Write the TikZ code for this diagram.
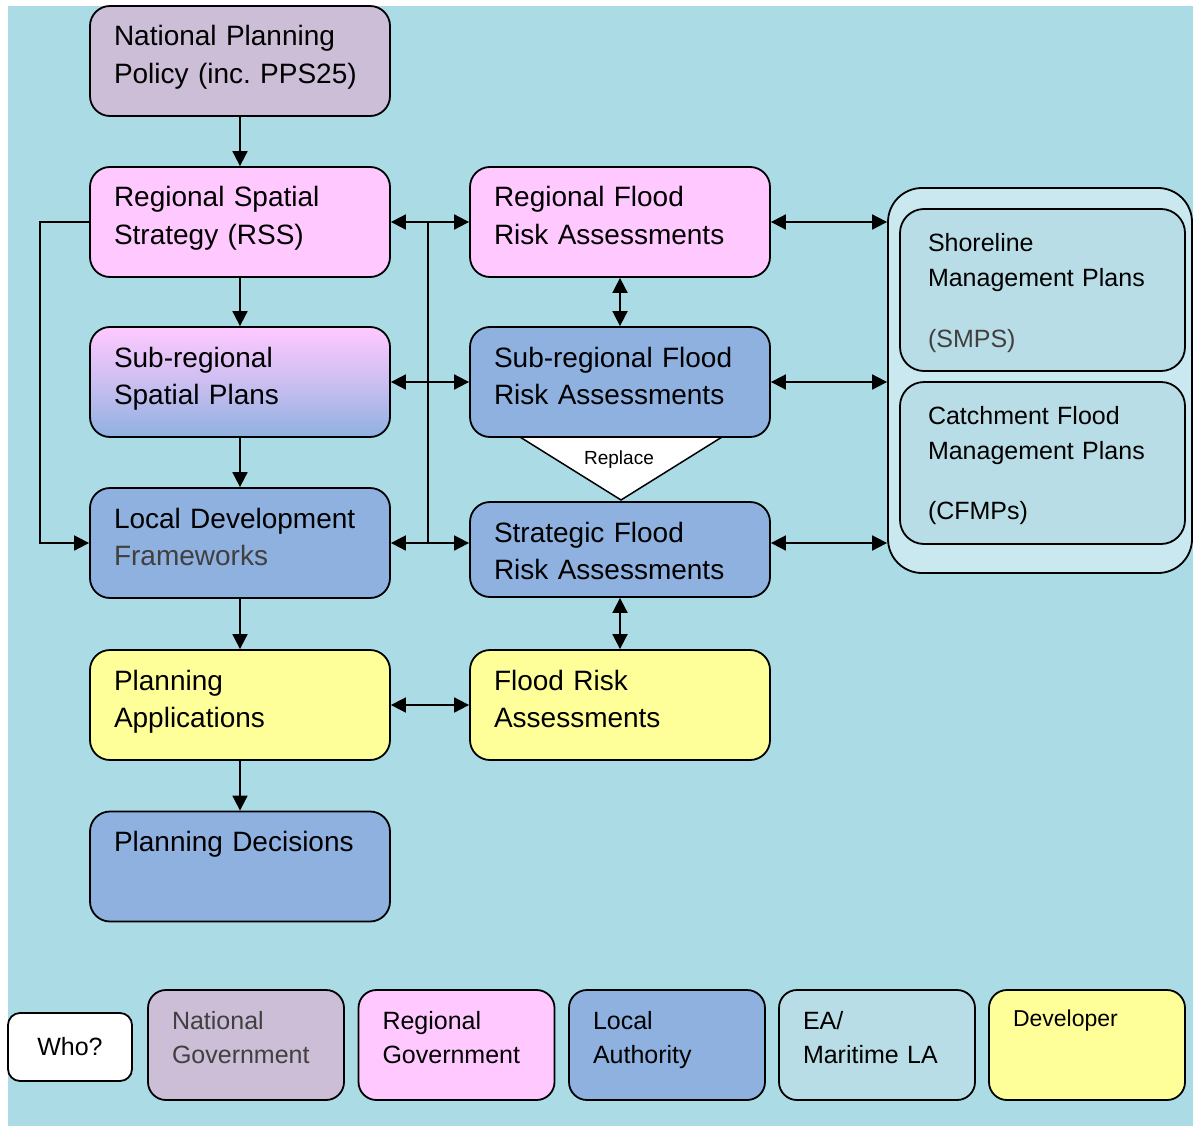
\documentclass[tikz,border=0pt]{standalone}
\usepackage{fontspec}
\setmainfont{Liberation Sans}
\usepackage{xcolor}
\usepackage{tikz}
\usetikzlibrary{arrows.meta, shapes}
\frenchspacing

\definecolor{water}{HTML}{ABDCE5}
\definecolor{natcol}{HTML}{CBBED6}
\definecolor{regcol}{HTML}{FFC9FF}
\definecolor{loccol}{HTML}{8EB1E0}
\definecolor{devcol}{HTML}{FFFF99}
\definecolor{eacol}{HTML}{B8DDE6}
\definecolor{grpcol}{HTML}{C9E8EF}
\definecolor{textgray}{HTML}{404040}

\newcommand{\boxfont}{\fontsize{28}{37.5}\selectfont}
\newcommand{\sidefont}{\fontsize{25}{35}\selectfont}
\newcommand{\keyfont}{\fontsize{25}{34}\selectfont}

\tikzset{
  stage/.style={draw, line width=1.8pt, rounded corners=20pt, inner xsep=24pt, inner ysep=0pt,
    text width=252pt, align=left, text height=40pt, text depth=70pt, font=\boxfont},
  plan/.style={draw, line width=1.8pt, rounded corners=24pt, fill=eacol, inner xsep=28pt, inner ysep=0pt,
    text width=229pt, align=left, text height=42pt, text depth=120pt, font=\sidefont},
  key/.style={draw, line width=1.8pt, rounded corners=18pt, inner xsep=24pt, inner ysep=0pt,
    text width=148pt, align=left, text height=39pt, text depth=71pt, font=\keyfont},
  arr/.style={line width=1.8pt, -{Triangle[length=15pt,width=15pt]}},
  darr/.style={line width=1.8pt, {Triangle[length=15pt,width=15pt]}-{Triangle[length=15pt,width=15pt]}},
}

\begin{document}
\begin{tikzpicture}[x=1pt, y=-1pt]
\useasboundingbox (0,0) rectangle (1193,1126);
\fill[water] (8,6) rectangle (1193,1126);

% planning side
\node[stage, fill=natcol] (npp) at (240,61) {National Planning\\Policy (inc. PPS25)};
\node[stage, fill=regcol] (rss) at (240,222) {Regional Spatial\\Strategy (RSS)};
\node[stage, top color=regcol, bottom color=loccol, middle color=regcol!55!loccol] (srsp) at (240,382) {Sub-regional\\Spatial Plans};
\node[stage, fill=loccol] (ldf) at (240,543) {Local Development\\{\color{textgray}Frameworks}};
\node[stage, fill=devcol] (papp) at (240,705) {Planning\\Applications};
\node[stage, fill=loccol] (pdec) at (240,866.5) {Planning Decisions};

% flood risk side
\node[stage, fill=regcol] (rfra) at (620,222) {Regional Flood\\Risk Assessments};
\node[stage, fill=loccol] (srfra) at (620,382) {Sub-regional Flood\\Risk Assessments};
\node[stage, fill=loccol, text depth=55pt] (sfra) at (620,549.5) {Strategic Flood\\Risk Assessments};
\node[stage, fill=devcol] (fra) at (620,705) {Flood Risk\\Assessments};

\draw[line width=1.5pt, fill=white] (520,437) -- (722,437) -- (621,500) -- cycle;
\node[font=\fontsize{19}{22}\selectfont] (rep) at (619,460) {Replace};

% management plans
\node[draw, line width=1.8pt, rounded corners=34pt, fill=grpcol, minimum width=304pt,
  minimum height=385pt, inner sep=0pt] (grp) at (1040,380.5) {};
\node[plan] (smp) at (1042.5,290) {Shoreline\\Management Plans\\[26pt]{\color{textgray}(SMPS)}};
\node[plan] (cfmp) at (1042.5,463) {Catchment Flood\\Management Plans\\[25pt](CFMPs)};

% links
\draw[arr] (npp.south) -- (rss.north);
\draw[arr] (rss.south) -- (srsp.north);
\draw[arr] (srsp.south) -- (ldf.north);
\draw[arr] (ldf.south) -- (papp.north);
\draw[arr] (papp.south) -- (pdec.north);
\draw[arr] (rss.west) -- ++(-49,0) |- (ldf.west);

\coordinate (bus) at (428,0);
\draw[line width=1.8pt] (rss.east -| bus) -- (ldf.east -| bus);
\draw[darr] (rss.east) -- (rfra.west);
\draw[darr] (srsp.east) -- (srfra.west);
\draw[darr] (ldf.east) -- (ldf.east -| sfra.west);
\draw[darr] (rfra.south) -- (srfra.north);
\draw[darr] (sfra.south) -- (fra.north);
\draw[darr] (papp.east) -- (fra.west);

\draw[darr] (rfra.east) -- (rfra.east -| grp.west);
\draw[darr] (srfra.east) -- (srfra.east -| grp.west);
\draw[darr] (sfra.east |- ldf.east) -- (grp.west |- ldf.east);

% key
\node[draw, line width=1.8pt, rounded corners=12pt, fill=white, minimum width=124pt,
  minimum height=68pt, font=\keyfont] (who) at (70,1047) {Who?};
\node[key, fill=natcol] (lgnat) at (246,1045) {{\color{textgray}National\\Government}};
\node[key, fill=regcol] (lgreg) at (456.5,1045) {Regional\\Government};
\node[key, fill=loccol] (lgloc) at (667,1045) {Local\\Authority};
\node[key, fill=eacol] (lgea) at (877,1045) {EA/\\Maritime LA};
\node[key, fill=devcol, font=\fontsize{23}{30}\selectfont, text height=36pt, text depth=74pt] (lgdev) at (1087,1045) {Developer};

\end{tikzpicture}
\end{document}
